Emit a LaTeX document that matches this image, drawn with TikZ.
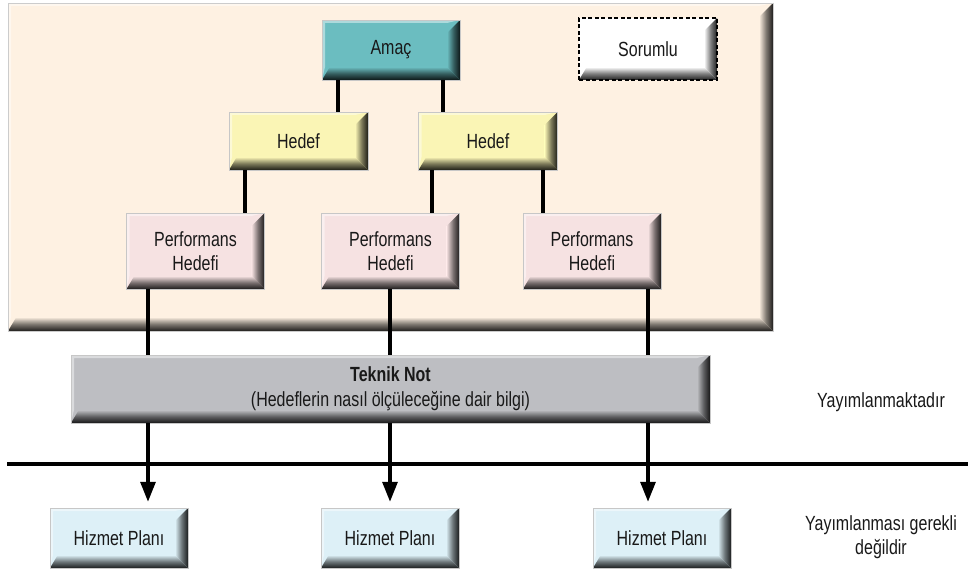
\documentclass[tikz,border=0pt]{standalone}
\usepackage{fontspec}
\setmainfont[FakeStretch=0.78]{Liberation Sans}
\usetikzlibrary{arrows.meta,calc}

\definecolor{panelc}{HTML}{FEF1E2}
\definecolor{amacc}{HTML}{6BBDC0}
\definecolor{hedefc}{HTML}{FAF5B5}
\definecolor{perfc}{HTML}{F6E2E2}
\definecolor{teknikc}{HTML}{BDBEC2}
\definecolor{hizmetc}{HTML}{DDF0F7}

\tikzset{
  % raised box: flat face, light top/left rim, dark bottom/right bevel
  bevelbox/.style 2 args={rectangle, inner sep=0pt, fill=#1, draw=black!22, line width=0.5pt,
    font=\fontsize{20.5}{24}\selectfont, align=center, text=black!90,
    path picture={
      \fill[white, opacity=0.45]
        let \p1=(path picture bounding box.south west), \p2=(path picture bounding box.north east) in
        (\x1,\y2) -- (\x2,\y2) -- (\x2-#2,\y2-3pt) -- (\x1+3pt,\y2-3pt) -- (\x1+3pt,\y1+#2) -- (\x1,\y1) -- cycle;
      \shade[left color=#1, right color=#1!12!black, middle color=#1!50!black]
        let \p1=(path picture bounding box.south west), \p2=(path picture bounding box.north east) in
        (\x2,\y2) -- (\x2,\y1) -- (\x2-#2,\y1+#2) -- (\x2-#2,\y2-#2) -- cycle;
      \shade[top color=#1, bottom color=#1!12!black, middle color=#1!50!black]
        let \p1=(path picture bounding box.south west), \p2=(path picture bounding box.north east) in
        (\x1,\y1) -- (\x2,\y1) -- (\x2-#2,\y1+#2) -- (\x1+0.6*#2,\y1+#2) -- cycle;
    }},
  smallbox/.style={minimum width=138pt, minimum height=60pt},
  hedefbox/.style={bevelbox={hedefc}{13pt}, minimum width=139pt, minimum height=58pt},
  perfbox/.style={bevelbox={perfc}{13pt}, minimum width=138pt, minimum height=76pt},
  planbox/.style={bevelbox={hizmetc}{13pt}, smallbox},
  conn/.style={line width=3.2pt, black},
  arr/.style={conn, -{Triangle[length=20pt,width=15pt]}},
  lbl/.style={font=\fontsize{20.5}{24}\selectfont, align=center, text=black!90},
}

\begin{document}
\begin{tikzpicture}[x=1pt, y=-1pt]
\useasboundingbox (0,0) rectangle (968,572);

% background panel holding the goal hierarchy
\node[bevelbox={panelc}{14pt}, draw=black!20, minimum width=765pt, minimum height=328pt] (panel) at (390.5,167) {};

% hierarchy boxes
\node[bevelbox={amacc}{13pt}, smallbox] (amac) at (391,50) {Amaç};
\node[bevelbox={white}{13pt}, draw=black, dash pattern=on 4pt off 2.5pt, line width=1.4pt,
      minimum width=138pt, minimum height=62pt] (sor) at (648,49) {Sorumlu};

\node[hedefbox] (hL) at (298.5,141) {Hedef};
\node[hedefbox] (hR) at (488,141) {Hedef};

\node[perfbox] (pL) at (195.5,251) {Performans\\Hedefi};
\node[perfbox] (pM) at (390.5,251) {Performans\\Hedefi};
\node[perfbox] (pR) at (592,251) {Performans\\Hedefi};

\node[bevelbox={teknikc}{13pt}, minimum width=639pt, minimum height=68pt] (tk) at (390.5,389)
  {{\bfseries Teknik Not}\\[1pt](Hedeflerin nasıl ölçüleceğine dair bilgi)};

\node[planbox] (sL) at (119,538) {Hizmet Planı};
\node[planbox] (sM) at (390,538) {Hizmet Planı};
\node[planbox] (sR) at (662,538) {Hizmet Planı};

% side labels
\node[lbl] (pub) at (881,402) {Yayımlanmaktadır};
\node[lbl] (npub) at (881,537) {Yayımlanması gerekli\\değildir};

% x positions of the vertical connectors
\coordinate (xa) at (338,0);
\coordinate (xb) at (443,0);
\coordinate (xc) at (245,0);
\coordinate (xd) at (432,0);
\coordinate (xe) at (543,0);
\coordinate (x1) at (148,0);
\coordinate (x2) at (390,0);
\coordinate (x3) at (648,0);

% goal -> targets
\draw[conn] (amac.south -| xa) -- (hL.north -| xa);
\draw[conn] (amac.south -| xb) -- (hR.north -| xb);
% targets -> performance targets
\draw[conn] (hL.south -| xc) -- (pL.north -| xc);
\draw[conn] (hR.south -| xd) -- (pM.north -| xd);
\draw[conn] (hR.south -| xe) -- (pR.north -| xe);
% performance targets -> technical note
\draw[conn] (pL.south -| x1) -- (tk.north -| x1);
\draw[conn] (pM.south -| x2) -- (tk.north -| x2);
\draw[conn] (pR.south -| x3) -- (tk.north -| x3);
% technical note -> service plans
\draw[arr] (tk.south -| x1) -- ($(sL.north -| x1)+(0,6pt)$);
\draw[arr] (tk.south -| x2) -- ($(sM.north -| x2)+(0,6pt)$);
\draw[arr] (tk.south -| x3) -- ($(sR.north -| x3)+(0,6pt)$);

% publication boundary
\coordinate (hl) at (7,464);
\coordinate (hr) at (968,464);
\draw[conn] (hl) -- (hr);
\end{tikzpicture}
\end{document}
